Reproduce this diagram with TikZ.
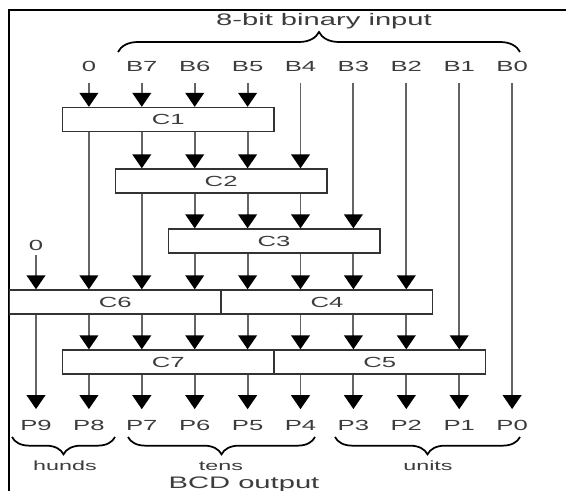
\documentclass[tikz,border=0pt]{standalone}
\usepackage{fontspec}
\setmainfont{Liberation Sans}[FakeStretch=1.75]
\usepackage{xcolor}
\usepackage{tikz}
\usetikzlibrary{arrows.meta,decorations.pathreplacing}
\definecolor{wiregray}{RGB}{100,100,100}
\definecolor{textgray}{RGB}{60,60,60}

\begin{document}
\begin{tikzpicture}[x=0.75pt,y=-0.75pt,
    cell/.style={draw=black!80,line width=1pt,minimum width=158.7pt,minimum height=18pt,inner sep=0pt,text=textgray,font=\fontsize{11}{12}\selectfont},
    lbl/.style={anchor=base,text=textgray,inner sep=3.5pt,outer sep=4.5pt,font=\fontsize{11}{12}\selectfont},
    wire/.style={wiregray,line width=1.4pt},
    arr/.style={wire,-{Triangle[width=14pt,length=10.5pt,color=black]}}]
    \useasboundingbox (0,0) rectangle (566,491);
    \draw[line width=1.6pt] (9,520) |- (600,10);

    % 8-bit input
    \node[textgray,font=\fontsize{12.5}{14}\selectfont] (title) at (324,21) {8-bit binary input};
    \draw[line width=1.3pt,decorate,decoration={brace,amplitude=15pt}] (118,52) -- (520,52);
    \node[lbl] (zin) at (88.9,72) {0};
    \node[lbl] (b7) at (141.8,72) {B7};
    \node[lbl] (b6) at (194.7,72) {B6};
    \node[lbl] (b5) at (247.6,72) {B5};
    \node[lbl] (b4) at (300.5,72) {B4};
    \node[lbl] (b3) at (353.4,72) {B3};
    \node[lbl] (b2) at (406.3,72) {B2};
    \node[lbl] (b1) at (459.2,72) {B1};
    \node[lbl] (b0) at (512.1,72) {B0};
    \node[lbl,outer sep=0.5pt] (zlo) at (36,250) {0};

    % correction cells
    \node[cell] (C1) at (168.25,119.5) {C1};
    \node[cell] (C2) at (221.15,181) {C2};
    \node[cell] (C3) at (274.05,241) {C3};
    \node[cell] (C6) at (115.35,302) {C6};
    \node[cell] (C4) at (326.95,302) {C4};
    \node[cell] (C7) at (168.25,362) {C7};
    \node[cell] (C5) at (379.85,362) {C5};

    % BCD outputs
    \node[lbl] (p9) at (36,430) {P9};
    \node[lbl] (p8) at (88.9,430) {P8};
    \node[lbl] (p7) at (141.8,430) {P7};
    \node[lbl] (p6) at (194.7,430) {P6};
    \node[lbl] (p5) at (247.6,430) {P5};
    \node[lbl] (p4) at (300.5,430) {P4};
    \node[lbl] (p3) at (353.4,430) {P3};
    \node[lbl] (p2) at (406.3,430) {P2};
    \node[lbl] (p1) at (459.2,430) {P1};
    \node[lbl] (p0) at (512.1,430) {P0};

    % inputs into the cells
    \draw[arr] (zin) -- (zin |- C1.north);
    \draw[arr] (b7) -- (b7 |- C1.north);
    \draw[arr] (b6) -- (b6 |- C1.north);
    \draw[arr] (b5) -- (b5 |- C1.north);
    \draw[arr] (b4) -- (b4 |- C2.north);
    \draw[arr] (b3) -- (b3 |- C3.north);
    \draw[arr] (b2) -- (b2 |- C4.north);
    \draw[arr] (b1) -- (b1 |- C5.north);
    \draw[arr] (b0) -- (p0);
    \draw[arr] (zlo) -- (zlo |- C6.north);

    % C1
    \draw[arr] (C1.south -| p8) -- (C6.north -| p8);
    \draw[arr] (C1.south -| p7) -- (C2.north -| p7);
    \draw[arr] (C1.south -| p6) -- (C2.north -| p6);
    \draw[arr] (C1.south -| p5) -- (C2.north -| p5);

    % C2
    \draw[arr] (C2.south -| p7) -- (C6.north -| p7);
    \draw[arr] (C2.south -| p6) -- (C3.north -| p6);
    \draw[arr] (C2.south -| p5) -- (C3.north -| p5);
    \draw[arr] (C2.south -| p4) -- (C3.north -| p4);

    % C3
    \draw[arr] (C3.south -| p6) -- (C6.north -| p6);
    \draw[arr] (C3.south -| p5) -- (C4.north -| p5);
    \draw[arr] (C3.south -| p4) -- (C4.north -| p4);
    \draw[arr] (C3.south -| p3) -- (C4.north -| p3);

    % C6 and C4
    \draw[arr] (C6.south -| p9) -- (p9);
    \draw[arr] (C6.south -| p8) -- (C7.north -| p8);
    \draw[arr] (C6.south -| p7) -- (C7.north -| p7);
    \draw[arr] (C6.south -| p6) -- (C7.north -| p6);
    \draw[arr] (C4.south -| p5) -- (C7.north -| p5);
    \draw[arr] (C4.south -| p4) -- (C5.north -| p4);
    \draw[arr] (C4.south -| p3) -- (C5.north -| p3);
    \draw[arr] (C4.south -| p2) -- (C5.north -| p2);

    % C7 and C5
    \draw[arr] (C7.south -| p8) -- (p8);
    \draw[arr] (C7.south -| p7) -- (p7);
    \draw[arr] (C7.south -| p6) -- (p6);
    \draw[arr] (C7.south -| p5) -- (p5);
    \draw[arr] (C5.south -| p4) -- (p4);
    \draw[arr] (C5.south -| p3) -- (p3);
    \draw[arr] (C5.south -| p2) -- (p2);
    \draw[arr] (C5.south -| p1) -- (p1);

    % digit groups
    \draw[line width=1.3pt,decorate,decoration={brace,mirror,amplitude=13pt}] (12,437) -- (115,437);
    \draw[line width=1.3pt,decorate,decoration={brace,mirror,amplitude=13pt}] (128,437) -- (315,437);
    \draw[line width=1.3pt,decorate,decoration={brace,mirror,amplitude=13pt}] (335,437) -- (520,437);
    \node[textgray,font=\fontsize{10}{12}\selectfont] (hunds) at (65,466) {hunds};
    \node[textgray,font=\fontsize{10}{12}\selectfont] (tens) at (221,466) {tens};
    \node[textgray,font=\fontsize{10}{12}\selectfont] (units) at (428,466) {units};
    \node[textgray,font=\fontsize{12.5}{14}\selectfont] (bcd) at (244,484) {BCD output};
\end{tikzpicture}
\end{document}
